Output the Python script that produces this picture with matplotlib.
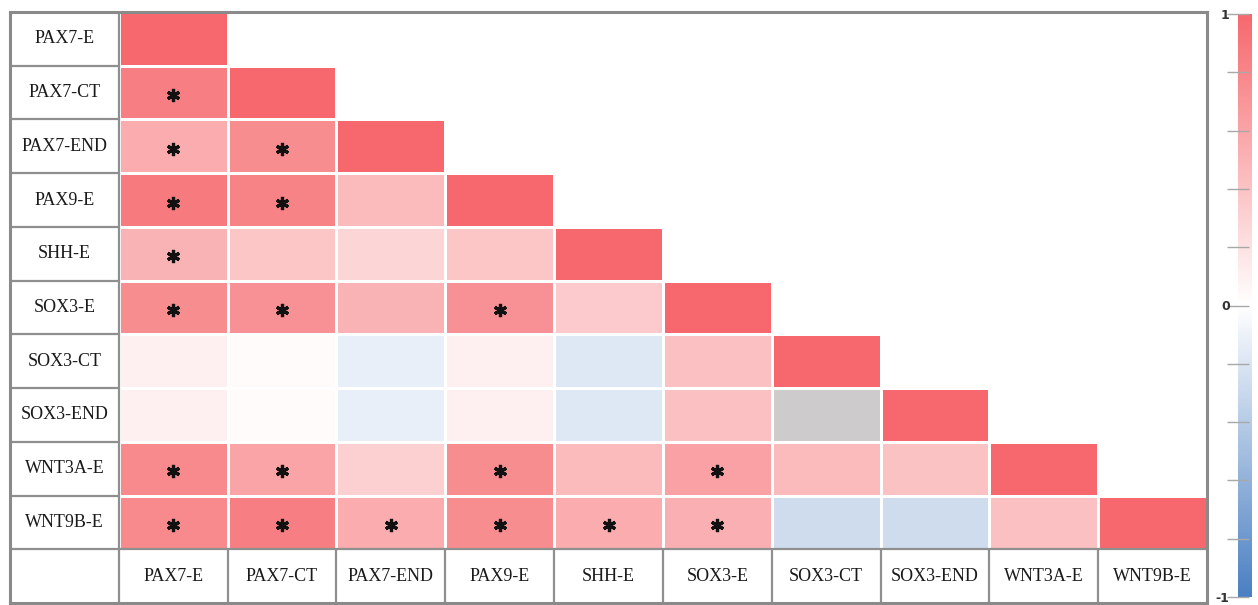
import numpy as np
import matplotlib
matplotlib.use("Agg")
import matplotlib.pyplot as plt
from matplotlib.colors import LinearSegmentedColormap, ListedColormap

genes = ["PAX7-E", "PAX7-CT", "PAX7-END", "PAX9-E", "SHH-E",
         "SOX3-E", "SOX3-CT", "SOX3-END", "WNT3A-E", "WNT9B-E"]

# Lower-triangle correlation coefficients (row i holds columns 0..i); NaN = not computed
corr_rows = [
    [1.00],
    [0.85, 1.00],
    [0.55, 0.75, 1.00],
    [0.88, 0.82, 0.45, 1.00],
    [0.50, 0.38, 0.28, 0.38, 1.00],
    [0.75, 0.72, 0.50, 0.72, 0.35, 1.00],
    [0.10, 0.03, -0.12, 0.10, -0.18, 0.42, 1.00],
    [0.10, 0.03, -0.12, 0.10, -0.18, 0.42, np.nan, 1.00],
    [0.78, 0.60, 0.32, 0.75, 0.45, 0.62, 0.45, 0.40, 1.00],
    [0.78, 0.85, 0.55, 0.75, 0.55, 0.52, -0.27, -0.27, 0.42, 1.00],
]

# Column indices of significant correlations in each row
significant = [
    [],
    [0],
    [0, 1],
    [0, 1],
    [0],
    [0, 1, 3],
    [],
    [],
    [0, 1, 3, 5],
    [0, 1, 2, 3, 4, 5],
]

n = len(genes)
mat = np.full((n, n), np.nan)
drawn = np.zeros((n, n), dtype=bool)
for i, row in enumerate(corr_rows):
    for j, v in enumerate(row):
        mat[i, j] = v
        drawn[i, j] = True

cmap = LinearSegmentedColormap.from_list("bwr_soft", ["#4A7FC2", "#FFFFFF", "#F6686D"])
cmap.set_bad((0, 0, 0, 0))

fig = plt.figure(figsize=(12.58, 6.05), dpi=100)
ax = fig.add_axes([10 / 1258, 2 / 605, 1197 / 1258, 591 / 605])

edges = np.arange(n + 1)
values = np.ma.masked_where(~drawn | np.isnan(mat), mat)
mesh = ax.pcolormesh(edges, edges, values, cmap=cmap, vmin=-1, vmax=1,
                     edgecolors="white", linewidth=1.0)

# Cells without a coefficient shown in grey
missing = np.ma.masked_where(~(drawn & np.isnan(mat)), np.ones_like(mat))
ax.pcolormesh(edges, edges, missing, cmap=ListedColormap(["#CDCBCC"]),
              edgecolors="white", linewidth=1.0)

# Significance markers
for i, cols in enumerate(significant):
    for j in cols:
        ax.plot(j + 0.5, i + 0.55, marker=(6, 2, 0), markersize=9.5,
                markeredgewidth=2.3, color="#111111")

ax.set_xlim(-1, n)
ax.set_ylim(n + 1, 0)
ax.set_xticks([])
ax.set_yticks([])

grid_color = "#8F8F8F"
# Label column and label row separators
ax.vlines(0, 0, n + 1, color=grid_color, linewidth=1.6)
ax.hlines(n, -1, n, color=grid_color, linewidth=1.6)
ax.hlines(np.arange(1, n), -1, 0, color=grid_color, linewidth=1.6)
ax.vlines(np.arange(1, n), n, n + 1, color=grid_color, linewidth=1.6)

for s in ax.spines.values():
    s.set_color("#8A8A8A")
    s.set_linewidth(2.2)

label_font = dict(family="Liberation Serif", fontsize=13, color="#1A1A1A",
                  ha="center", va="center")
for i, g in enumerate(genes):
    ax.text(-0.5, i + 0.5, g, **label_font)
    ax.text(i + 0.5, n + 0.5, g, **label_font)

# Colour scale
cax = fig.add_axes([1238 / 1258, 8 / 605, 14 / 1258, 583 / 605])
cb = fig.colorbar(mesh, cax=cax)
cb.outline.set_visible(False)
cb.set_ticks(np.linspace(-1, 1, 11))
cb.set_ticklabels(["-1", "", "", "", "", "0", "", "", "", "", "1"])
cax.yaxis.set_ticks_position("left")
cax.yaxis.set_label_position("left")
cax.tick_params(axis="y", direction="inout", length=16, width=1,
                color="#A8A8A8", labelsize=9, labelcolor="#333333", pad=-2)
for lbl in cax.get_yticklabels():
    lbl.set_fontweight("bold")

fig.savefig("out.png", dpi=100)
